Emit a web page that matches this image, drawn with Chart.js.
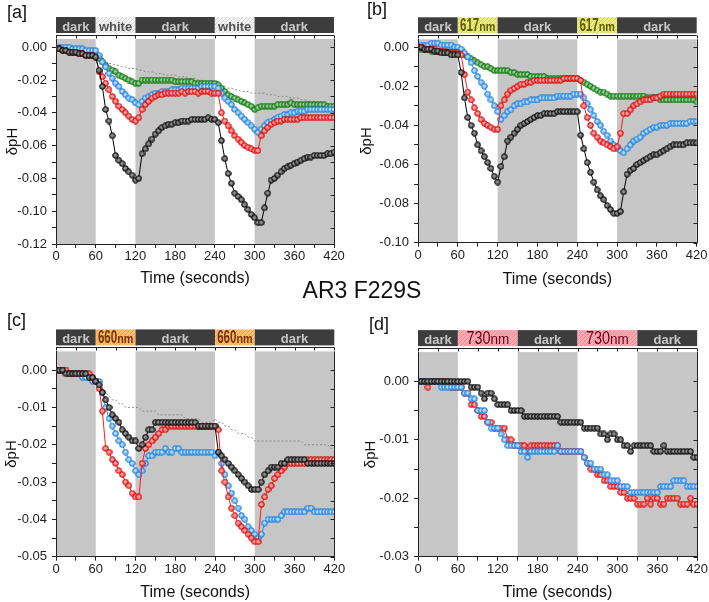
<!DOCTYPE html>
<html>
<head>
<meta charset="utf-8">
<script src="https://cdn.jsdelivr.net/npm/chart.js@4.4.0/dist/chart.umd.min.js"></script>
<style>
  body { margin: 0; background: #fff; width: 709px; height: 602px; position: relative; overflow: hidden;
         font-family: "Liberation Sans", Arial, sans-serif; color: #111; }
  canvas { position: absolute; }
  .tag { position: absolute; font-size: 18px; line-height: 18px; }
  #main { position: absolute; left: 362px; top: 279px; font-size: 23px; line-height: 23px;
          transform: translateX(-50%); white-space: nowrap; }
</style>
</head>
<body>
<canvas id="pa" width="354" height="300" style="left:0;top:0"></canvas>
<canvas id="pb" width="355" height="300" style="left:354px;top:0"></canvas>
<canvas id="pc" width="354" height="302" style="left:0;top:300px"></canvas>
<canvas id="pd" width="355" height="302" style="left:354px;top:300px"></canvas>
<div class="tag" style="left:7px;top:3px">[a]</div>
<div class="tag" style="left:367px;top:0px">[b]</div>
<div class="tag" style="left:7px;top:311px">[c]</div>
<div class="tag" style="left:369px;top:315px">[d]</div>
<div id="main">AR3 F229S</div>
<script>
// time axis (seconds)
var time = [0,5,10,15,20,25,30,35,40,45,50,55,60,65,70,75,80,85,90,95,100,105,110,115,
  120,125,130,135,140,145,150,155,160,165,170,175,180,185,190,195,200,205,210,215,220,225,230,235,
  240,245,250,255,260,265,270,275,280,285,290,295,300,305,310,315,320,325,330,335,340,345,350,355,
  360,365,370,375,380,385,390,395,400,405,410,415,420];

// light periods of each panel: [from, to, kind]
var periodsA = [[0,60,'dark'],[60,120,'white'],[120,240,'dark'],[240,300,'white'],[300,420,'dark']];
var periodsB = [[0,60,'dark'],[60,120,'617'],[120,240,'dark'],[240,300,'617'],[300,420,'dark']];
var periodsC = [[0,60,'dark'],[60,120,'660'],[120,240,'dark'],[240,300,'660'],[300,420,'dark']];
var periodsD = [[0,60,'dark'],[60,150,'730'],[150,240,'dark'],[240,330,'730'],[330,420,'dark']];

// panel [a] white light
var aBlack = [-0.001,-0.001,-0.002,-0.002,-0.003,-0.003,-0.003,-0.004,-0.004,-0.005,-0.005,-0.005,
  -0.006,-0.014,-0.024,-0.038,-0.045,-0.054,-0.066,-0.069,-0.071,-0.074,-0.076,-0.078,
  -0.081,-0.080,-0.065,-0.062,-0.059,-0.056,-0.053,-0.051,-0.049,-0.048,-0.047,-0.047,
  -0.046,-0.046,-0.045,-0.045,-0.045,-0.044,-0.044,-0.044,-0.044,-0.044,-0.043,-0.044,
  -0.044,-0.046,-0.057,-0.068,-0.077,-0.083,-0.089,-0.091,-0.093,-0.096,-0.099,-0.102,
  -0.104,-0.107,-0.107,-0.098,-0.089,-0.081,-0.080,-0.078,-0.076,-0.074,-0.073,-0.072,
  -0.071,-0.070,-0.069,-0.068,-0.067,-0.067,-0.066,-0.066,-0.066,-0.066,-0.065,-0.065,
  -0.064];
var aRed = [-0.001,-0.001,-0.002,-0.002,-0.003,-0.003,-0.003,-0.004,-0.004,-0.005,-0.005,-0.005,
  -0.006,-0.015,-0.018,-0.022,-0.026,-0.030,-0.033,-0.036,-0.038,-0.040,-0.042,-0.044,
  -0.045,-0.043,-0.038,-0.035,-0.033,-0.031,-0.030,-0.029,-0.029,-0.028,-0.028,-0.028,
  -0.028,-0.028,-0.027,-0.028,-0.027,-0.027,-0.027,-0.028,-0.027,-0.027,-0.027,-0.028,
  -0.028,-0.028,-0.040,-0.045,-0.048,-0.051,-0.054,-0.056,-0.058,-0.060,-0.061,-0.062,
  -0.063,-0.063,-0.054,-0.051,-0.049,-0.047,-0.046,-0.045,-0.045,-0.044,-0.044,-0.044,
  -0.044,-0.044,-0.043,-0.043,-0.043,-0.043,-0.043,-0.043,-0.043,-0.043,-0.043,-0.043,
  -0.043];
var aBlue = [0,0,0,0,0,-0.001,-0.001,-0.001,-0.001,-0.002,-0.002,-0.002,
  -0.002,-0.005,-0.009,-0.012,-0.016,-0.019,-0.022,-0.024,-0.027,-0.029,-0.031,-0.032,
  -0.034,-0.035,-0.033,-0.031,-0.030,-0.029,-0.028,-0.028,-0.027,-0.027,-0.027,-0.026,
  -0.026,-0.026,-0.025,-0.025,-0.025,-0.025,-0.025,-0.025,-0.024,-0.024,-0.024,-0.024,
  -0.024,-0.025,-0.028,-0.031,-0.033,-0.035,-0.038,-0.040,-0.042,-0.044,-0.046,-0.048,
  -0.050,-0.052,-0.050,-0.048,-0.046,-0.045,-0.044,-0.043,-0.042,-0.041,-0.041,-0.040,
  -0.040,-0.039,-0.039,-0.039,-0.038,-0.038,-0.038,-0.038,-0.038,-0.038,-0.038,-0.038,
  -0.038];
var aGreen = [-0.001,-0.001,-0.002,-0.002,-0.002,-0.003,-0.003,-0.003,-0.004,-0.004,-0.004,-0.005,
  -0.005,-0.007,-0.009,-0.011,-0.013,-0.014,-0.015,-0.017,-0.018,-0.019,-0.020,-0.021,
  -0.022,-0.022,-0.020,-0.020,-0.020,-0.020,-0.020,-0.020,-0.020,-0.020,-0.020,-0.020,
  -0.021,-0.021,-0.021,-0.021,-0.021,-0.021,-0.022,-0.022,-0.022,-0.022,-0.022,-0.022,
  -0.022,-0.023,-0.025,-0.027,-0.029,-0.030,-0.031,-0.032,-0.033,-0.034,-0.035,-0.036,
  -0.038,-0.037,-0.036,-0.036,-0.036,-0.036,-0.036,-0.035,-0.035,-0.035,-0.035,-0.034,
  -0.035,-0.035,-0.035,-0.035,-0.035,-0.035,-0.035,-0.035,-0.035,-0.035,-0.036,-0.036,
  -0.036];
var aControl = [null,null,null,null,null,null,null,null,null,null,null,null,
  -0.005,-0.007,-0.008,-0.009,-0.010,-0.010,-0.011,-0.011,-0.012,-0.012,-0.013,-0.013,
  -0.013,-0.014,-0.014,-0.015,-0.015,-0.015,-0.016,-0.016,-0.016,-0.017,-0.017,-0.017,
  -0.017,-0.018,-0.018,-0.018,-0.019,-0.019,-0.019,-0.020,-0.020,-0.021,-0.021,-0.022,
  -0.022,-0.023,-0.023,-0.024,-0.025,-0.025,-0.026,-0.026,-0.027,-0.027,-0.027,-0.028,
  -0.028,-0.028,-0.028,-0.028,-0.029,-0.029,-0.029,-0.030,-0.030,-0.030,-0.030,-0.031,
  -0.031,-0.031,-0.032,-0.032,-0.033,-0.033,-0.033,-0.034,-0.034,-0.034,-0.035,-0.035,
  -0.035];

// panel [b] 617 nm
var bBlack = [0,0,-0.001,-0.001,-0.001,-0.002,-0.002,-0.003,-0.003,-0.003,-0.004,-0.004,
  -0.004,-0.013,-0.026,-0.036,-0.040,-0.044,-0.050,-0.053,-0.056,-0.059,-0.062,-0.066,
  -0.069,-0.061,-0.056,-0.048,-0.046,-0.044,-0.042,-0.040,-0.039,-0.038,-0.037,-0.036,
  -0.035,-0.035,-0.034,-0.034,-0.034,-0.034,-0.033,-0.033,-0.033,-0.033,-0.033,-0.033,
  -0.033,-0.045,-0.052,-0.059,-0.064,-0.069,-0.073,-0.076,-0.078,-0.081,-0.083,-0.085,
  -0.085,-0.084,-0.074,-0.065,-0.063,-0.062,-0.060,-0.059,-0.058,-0.057,-0.056,-0.055,
  -0.055,-0.054,-0.053,-0.052,-0.051,-0.050,-0.050,-0.050,-0.050,-0.049,-0.049,-0.049,
  -0.049];
var bRed = [0,0,-0.001,-0.001,-0.001,-0.001,-0.002,-0.002,-0.002,-0.003,-0.003,-0.003,
  -0.003,-0.004,-0.014,-0.023,-0.027,-0.031,-0.034,-0.037,-0.039,-0.040,-0.041,-0.042,
  -0.042,-0.030,-0.027,-0.024,-0.022,-0.021,-0.020,-0.019,-0.019,-0.018,-0.018,-0.017,
  -0.017,-0.017,-0.017,-0.017,-0.017,-0.017,-0.017,-0.017,-0.016,-0.016,-0.016,-0.016,
  -0.016,-0.017,-0.030,-0.036,-0.040,-0.044,-0.046,-0.048,-0.049,-0.050,-0.051,-0.052,
  -0.051,-0.044,-0.034,-0.034,-0.032,-0.030,-0.029,-0.028,-0.027,-0.027,-0.027,-0.026,
  -0.026,-0.025,-0.024,-0.024,-0.024,-0.024,-0.024,-0.024,-0.024,-0.024,-0.024,-0.024,
  -0.024];
var bBlue = [0,0.001,0.001,0.001,0.002,0.002,0.002,0.001,0.001,0.001,0.001,0,
  0,-0.001,-0.003,-0.005,-0.008,-0.012,-0.015,-0.018,-0.020,-0.024,-0.027,-0.030,
  -0.033,-0.037,-0.035,-0.033,-0.032,-0.030,-0.029,-0.029,-0.028,-0.028,-0.027,-0.027,
  -0.027,-0.026,-0.026,-0.026,-0.026,-0.026,-0.025,-0.025,-0.025,-0.025,-0.025,-0.024,
  -0.024,-0.024,-0.026,-0.029,-0.032,-0.035,-0.038,-0.040,-0.043,-0.045,-0.048,-0.050,
  -0.052,-0.053,-0.054,-0.052,-0.050,-0.048,-0.047,-0.046,-0.044,-0.043,-0.042,-0.041,
  -0.041,-0.040,-0.040,-0.040,-0.039,-0.039,-0.039,-0.039,-0.039,-0.039,-0.038,-0.038,
  -0.038];
var bGreen = [-0.001,-0.001,-0.001,-0.001,-0.002,-0.002,-0.002,-0.002,-0.003,-0.003,-0.003,-0.003,
  -0.003,-0.003,-0.004,-0.005,-0.006,-0.007,-0.008,-0.009,-0.010,-0.010,-0.011,-0.012,
  -0.012,-0.012,-0.012,-0.012,-0.013,-0.013,-0.014,-0.014,-0.014,-0.014,-0.015,-0.015,
  -0.015,-0.015,-0.015,-0.016,-0.016,-0.016,-0.016,-0.016,-0.016,-0.016,-0.016,-0.016,
  -0.016,-0.017,-0.018,-0.019,-0.020,-0.021,-0.022,-0.023,-0.023,-0.024,-0.025,-0.025,
  -0.025,-0.025,-0.025,-0.025,-0.025,-0.025,-0.025,-0.025,-0.025,-0.026,-0.026,-0.026,
  -0.026,-0.027,-0.027,-0.027,-0.027,-0.027,-0.027,-0.027,-0.027,-0.027,-0.027,-0.027,
  -0.028];

// panel [c] 660 nm
var cBlack = [0,0,0,-0.001,-0.001,-0.001,-0.001,-0.001,-0.001,-0.001,-0.002,-0.002,
  -0.003,-0.004,-0.006,-0.008,-0.010,-0.012,-0.013,-0.014,-0.016,-0.017,-0.018,-0.019,
  -0.019,-0.021,-0.020,-0.018,-0.016,-0.016,-0.014,-0.014,-0.014,-0.014,-0.014,-0.014,
  -0.014,-0.014,-0.014,-0.014,-0.014,-0.014,-0.014,-0.015,-0.015,-0.015,-0.015,-0.015,
  -0.015,-0.022,-0.023,-0.024,-0.025,-0.026,-0.027,-0.028,-0.029,-0.030,-0.031,-0.032,
  -0.032,-0.032,-0.030,-0.028,-0.027,-0.026,-0.026,-0.026,-0.025,-0.025,-0.024,-0.024,
  -0.024,-0.024,-0.024,-0.024,-0.025,-0.025,-0.025,-0.025,-0.025,-0.025,-0.025,-0.025,
  -0.025];
var cRed = [0,0,0,0,-0.001,-0.001,-0.001,-0.001,-0.001,-0.001,-0.001,-0.002,
  -0.003,-0.005,-0.011,-0.021,-0.022,-0.024,-0.025,-0.027,-0.028,-0.030,-0.031,-0.033,
  -0.034,-0.034,-0.025,-0.021,-0.020,-0.019,-0.018,-0.017,-0.016,-0.016,-0.015,-0.015,
  -0.015,-0.015,-0.015,-0.015,-0.015,-0.015,-0.015,-0.015,-0.015,-0.015,-0.015,-0.015,
  -0.015,-0.016,-0.027,-0.030,-0.034,-0.037,-0.039,-0.041,-0.042,-0.043,-0.044,-0.045,
  -0.046,-0.046,-0.036,-0.034,-0.032,-0.031,-0.029,-0.028,-0.027,-0.026,-0.025,-0.025,
  -0.025,-0.025,-0.025,-0.025,-0.024,-0.024,-0.024,-0.024,-0.024,-0.024,-0.024,-0.024,
  -0.024];
var cBlue = [0,0,0,0,-0.001,-0.001,-0.001,-0.001,-0.002,-0.002,-0.002,-0.003,
  -0.003,-0.003,-0.006,-0.010,-0.013,-0.015,-0.017,-0.019,-0.020,-0.022,-0.024,-0.025,
  -0.027,-0.028,-0.027,-0.025,-0.023,-0.023,-0.022,-0.022,-0.022,-0.021,-0.022,-0.022,
  -0.021,-0.021,-0.022,-0.022,-0.022,-0.022,-0.022,-0.022,-0.022,-0.022,-0.022,-0.022,
  -0.023,-0.022,-0.025,-0.028,-0.031,-0.033,-0.035,-0.037,-0.039,-0.040,-0.042,-0.043,
  -0.044,-0.045,-0.044,-0.041,-0.040,-0.040,-0.040,-0.040,-0.039,-0.038,-0.038,-0.038,
  -0.038,-0.038,-0.038,-0.038,-0.037,-0.037,-0.038,-0.038,-0.038,-0.038,-0.038,-0.038,
  -0.038];
var cControl = [null,null,null,null,null,null,null,null,null,null,null,null,
  -0.003,-0.004,-0.005,-0.006,-0.007,-0.008,-0.008,-0.009,-0.009,-0.010,-0.010,-0.010,
  -0.010,-0.010,-0.011,-0.011,-0.011,-0.011,-0.011,-0.012,-0.012,-0.012,-0.012,-0.012,
  -0.012,-0.012,-0.012,-0.013,-0.013,-0.013,-0.013,-0.013,-0.014,-0.014,-0.014,-0.014,
  -0.013,-0.014,-0.014,-0.015,-0.015,-0.016,-0.016,-0.017,-0.017,-0.017,-0.018,-0.018,
  -0.019,-0.019,-0.019,-0.019,-0.019,-0.019,-0.019,-0.019,-0.019,-0.019,-0.019,-0.019,
  -0.019,-0.019,-0.019,-0.020,-0.020,-0.020,-0.020,-0.020,-0.020,-0.020,-0.020,-0.021,
  -0.021];

// panel [d] 730 nm
var dBlack = [0,0,0,0,0,0,0,0,0,0,0,0,
  0,0,0,0,-0.001,-0.001,-0.001,-0.002,-0.003,-0.002,-0.002,-0.003,
  -0.004,-0.004,-0.004,-0.004,-0.005,-0.005,-0.005,-0.005,-0.006,-0.006,-0.006,-0.006,
  -0.006,-0.006,-0.006,-0.006,-0.006,-0.006,-0.006,-0.007,-0.007,-0.007,-0.007,-0.007,
  -0.007,-0.007,-0.008,-0.008,-0.008,-0.008,-0.008,-0.009,-0.009,-0.010,-0.009,-0.009,
  -0.010,-0.010,-0.011,-0.011,-0.012,-0.011,-0.011,-0.011,-0.011,-0.011,-0.011,-0.012,
  -0.012,-0.012,-0.011,-0.012,-0.012,-0.012,-0.012,-0.012,-0.012,-0.012,-0.012,-0.013,
  -0.013];
var dRed = [0,0,0,-0.001,0,0,0,0,0,0,-0.001,-0.001,
  -0.001,-0.001,-0.002,-0.002,-0.004,-0.004,-0.005,-0.006,-0.006,-0.007,-0.007,-0.008,
  -0.008,-0.008,-0.008,-0.010,-0.010,-0.011,-0.011,-0.011,-0.011,-0.012,-0.011,-0.011,
  -0.011,-0.011,-0.011,-0.011,-0.011,-0.011,-0.011,-0.012,-0.012,-0.012,-0.012,-0.012,
  -0.012,-0.012,-0.013,-0.014,-0.015,-0.015,-0.016,-0.016,-0.017,-0.017,-0.018,-0.018,
  -0.018,-0.019,-0.019,-0.020,-0.020,-0.020,-0.021,-0.021,-0.021,-0.020,-0.021,-0.020,
  -0.020,-0.021,-0.021,-0.020,-0.020,-0.020,-0.020,-0.021,-0.021,-0.021,-0.020,-0.021,
  -0.021];
var dBlue = [0,0,0,0,0,0,0,-0.001,-0.001,-0.001,-0.001,-0.001,
  -0.001,-0.001,-0.002,-0.002,-0.003,-0.003,-0.005,-0.005,-0.005,-0.007,-0.008,-0.008,
  -0.008,-0.009,-0.010,-0.011,-0.011,-0.011,-0.011,-0.012,-0.012,-0.013,-0.012,-0.012,
  -0.012,-0.012,-0.012,-0.012,-0.012,-0.012,-0.011,-0.012,-0.012,-0.012,-0.012,-0.012,
  -0.012,-0.012,-0.013,-0.014,-0.014,-0.015,-0.015,-0.015,-0.016,-0.016,-0.017,-0.017,
  -0.017,-0.018,-0.018,-0.018,-0.019,-0.019,-0.019,-0.019,-0.019,-0.019,-0.019,-0.019,
  -0.019,-0.018,-0.018,-0.018,-0.018,-0.017,-0.017,-0.017,-0.017,-0.018,-0.018,-0.018,
  -0.018];

// tick values
var xTicks = [0,30,60,90,120,150,180,210,240,270,300,330,360,390,420];
var xLabels = [0,60,120,180,240,300,360,420];
var yTicksA = [0,-0.01,-0.02,-0.03,-0.04,-0.05,-0.06,-0.07,-0.08,-0.09,-0.10,-0.11,-0.12];
var yLabelsA = [0,-0.02,-0.04,-0.06,-0.08,-0.10,-0.12];
var yTicksB = [0,-0.01,-0.02,-0.03,-0.04,-0.05,-0.06,-0.07,-0.08,-0.09,-0.10];
var yLabelsB = [0,-0.02,-0.04,-0.06,-0.08,-0.10];
var yTicksC = [0,-0.005,-0.01,-0.015,-0.02,-0.025,-0.03,-0.035,-0.04,-0.045,-0.05];
var yLabelsC = [0,-0.01,-0.02,-0.03,-0.04,-0.05];
var yTicksD = [0,-0.005,-0.01,-0.015,-0.02,-0.025,-0.03];
var yLabelsD = [0,-0.01,-0.02,-0.03];

var FONT = '"Liberation Sans", Arial, sans-serif';
Chart.defaults.font.family = FONT;

function dot(edge, fill, hi) {
  var c = document.createElement('canvas');
  c.width = 7; c.height = 7;
  var g = c.getContext('2d');
  var grd = g.createRadialGradient(3, 3, 0.2, 3.5, 3.5, 3.2);
  grd.addColorStop(0, hi);
  grd.addColorStop(1, fill);
  g.fillStyle = grd;
  g.beginPath(); g.arc(3.5, 3.5, 2.8, 0, Math.PI * 2); g.fill();
  g.lineWidth = 1; g.strokeStyle = edge; g.stroke();
  return c;
}

var STY = {
  black: { line: '#000', dot: dot('#000', '#333333', '#a8a8a8') },
  red:   { line: '#ff1a1a', dot: dot('#d00000', '#ff3030', '#ffc4c4') },
  blue:  { line: '#2a90f0', dot: dot('#1a7ad6', '#3d9cf2', '#d6ecff') },
  green: { line: '#1a8c1a', dot: dot('#0f6a0f', '#2a9a2a', '#aee0ae') }
};

function series(vals, key) {
  return {
    data: time.map(function (t, i) { return { x: t, y: vals[i] }; }),
    borderColor: STY[key].line, borderWidth: 1,
    pointStyle: STY[key].dot, pointRadius: 3, pointHoverRadius: 3, tension: 0
  };
}
function control(vals) {
  return {
    data: time.map(function (t, i) { return { x: t, y: vals[i] }; }),
    borderColor: '#8a8a8a', borderWidth: 1, borderDash: [2, 2], pointRadius: 0, spanGaps: false
  };
}

function hatch(bg, ln) {
  var c = document.createElement('canvas');
  c.width = 4; c.height = 4;
  var g = c.getContext('2d');
  g.fillStyle = bg; g.fillRect(0, 0, 4, 4);
  g.strokeStyle = ln; g.lineWidth = 1;
  g.beginPath(); g.moveTo(-1, 5); g.lineTo(5, -1); g.stroke();
  return c;
}

var SEG = {
  dark:  { bg: '#3d3d3d', color: '#c8c8c8', parts: [['dark', 'bold 13px', 1]] },
  white: { bg: hatch('#f1f1f1', '#d8d8d8'), color: '#505050', parts: [['white', 'bold 13px', 1]] },
  '617': { bg: hatch('#e9e985', '#d4d45c'), color: '#5e5e00', parts: [['617', 'bold 18px', 0.64], ['nm', 'bold 12px', 0.9]] },
  '660': { bg: hatch('#f9bd74', '#efa352'), color: '#7a3300', parts: [['660', 'bold 18px', 0.64], ['nm', 'bold 12px', 0.9]] },
  '730': { bg: hatch('#f9a9b1', '#f28c98'), color: '#6b0014', parts: [['730', '18px', 0.8], ['nm', '15px', 0.9]] }
};

var bandPlugin = {
  id: 'bands',
  beforeDraw: function (chart, args, o) {
    var ctx = chart.ctx, a = chart.chartArea, x = chart.scales.x;
    ctx.save();
    // shaded dark periods
    ctx.fillStyle = '#c6c6c6';
    o.periods.forEach(function (p) {
      if (p[2] !== 'dark') return;
      var x0 = x.getPixelForValue(p[0]), x1 = x.getPixelForValue(p[1]);
      ctx.fillRect(x0, a.top, x1 - x0, a.bottom - a.top);
    });
    // header bar
    var hTop = a.top - 22, hH = 16;
    o.periods.forEach(function (p) {
      var x0 = x.getPixelForValue(p[0]), x1 = x.getPixelForValue(p[1]);
      var s = SEG[p[2]];
      ctx.fillStyle = typeof s.bg === 'string' ? s.bg : ctx.createPattern(s.bg, 'repeat');
      ctx.fillRect(x0, hTop, x1 - x0, hH);
      var total = 0;
      s.parts.forEach(function (q) {
        ctx.font = q[1] + ' ' + FONT;
        total += ctx.measureText(q[0]).width * q[2];
      });
      var cx = (x0 + x1) / 2 - total / 2;
      ctx.fillStyle = s.color;
      ctx.textBaseline = 'alphabetic';
      ctx.textAlign = 'left';
      s.parts.forEach(function (q) {
        ctx.font = q[1] + ' ' + FONT;
        var w = ctx.measureText(q[0]).width;
        ctx.save();
        ctx.translate(cx, hTop + 13.5);
        ctx.scale(q[2], 1);
        ctx.fillText(q[0], 0, 0);
        ctx.restore();
        cx += w * q[2];
      });
    });
    ctx.restore();
  },
  afterDraw: function (chart) {
    var ctx = chart.ctx, a = chart.chartArea, x = chart.scales.x, y = chart.scales.y;
    ctx.save();
    ctx.strokeStyle = '#222'; ctx.lineWidth = 1;
    ctx.beginPath();
    var R = Math.round(a.right) + 0.5;
    ctx.moveTo(R, a.top); ctx.lineTo(R, a.bottom);
    y.ticks.forEach(function (t) {
      var py = Math.round(y.getPixelForValue(t.value)) + 0.5;
      ctx.moveTo(R, py); ctx.lineTo(R - 4, py);
    });
    var hy = Math.round(a.top - 4) + 0.5;
    ctx.moveTo(a.left, hy); ctx.lineTo(a.right, hy);
    x.ticks.forEach(function (t) {
      var px = Math.round(x.getPixelForValue(t.value)) + 0.5;
      ctx.moveTo(px, hy); ctx.lineTo(px, hy + 3);
    });
    ctx.stroke();
    ctx.restore();
  }
};

function isIn(list, v) {
  return list.some(function (m) { return Math.abs(m - v) < 1e-9; });
}

function panel(id, cfg) {
  return new Chart(document.getElementById(id), {
    type: 'line',
    data: { datasets: cfg.datasets },
    options: {
      responsive: false, animation: false, devicePixelRatio: 1,
      layout: { padding: cfg.pad },
      plugins: { legend: { display: false }, tooltip: { enabled: false }, bands: { periods: cfg.periods } },
      scales: {
        x: {
          type: 'linear', min: 0, max: 420,
          afterFit: function (s) { s.height = cfg.xh; },
          afterBuildTicks: function (s) { s.ticks = xTicks.map(function (v) { return { value: v }; }); },
          ticks: {
            autoSkip: false, maxRotation: 0, padding: 1, color: '#222', font: { size: 13 },
            callback: function (v) { return isIn(xLabels, v) ? String(v) : ''; }
          },
          grid: { drawOnChartArea: false, tickLength: 4, color: '#222' },
          border: { color: '#222' },
          title: { display: true, text: 'Time (seconds)', color: '#111', font: { size: 16 },
                   padding: { top: 0, bottom: cfg.xtb } }
        },
        y: {
          min: cfg.ymin, max: cfg.ymax,
          afterFit: function (s) { s.width = cfg.yw; },
          afterBuildTicks: function (s) { s.ticks = cfg.yTicks.map(function (v) { return { value: v }; }); },
          ticks: {
            autoSkip: false, padding: 5, color: '#222', font: { size: 13 },
            callback: function (v) { return isIn(cfg.yLabels, v) ? Number(v).toFixed(2) : ''; }
          },
          grid: { drawOnChartArea: false, tickLength: 4, color: '#222' },
          border: { color: '#222' },
          title: { display: true, text: 'δpH', color: '#111', font: { size: 15 },
                   padding: { top: cfg.ytt, bottom: 0 } }
        }
      }
    },
    plugins: [bandPlugin]
  });
}

panel('pa', {
  datasets: [series(aBlack, 'black'), series(aRed, 'red'), series(aBlue, 'blue'), series(aGreen, 'green'), control(aControl)],
  periods: periodsA, ymin: -0.12, ymax: 0.005, yTicks: yTicksA, yLabels: yLabelsA,
  pad: { top: 39, right: 20, bottom: 0, left: 0 }, yw: 56, xh: 56, xtb: 11.4, ytt: 3.5
});
panel('pb', {
  datasets: [series(bBlack, 'black'), series(bRed, 'red'), series(bBlue, 'blue'), series(bGreen, 'green')],
  periods: periodsB, ymin: -0.10, ymax: 0.004, yTicks: yTicksB, yLabels: yLabelsB,
  pad: { top: 39.3, right: 12.3, bottom: 0, left: 0 }, yw: 64, xh: 57.3, xtb: 11.1, ytt: 4.3
});
panel('pc', {
  datasets: [series(cBlack, 'black'), series(cRed, 'red'), series(cBlue, 'blue'), control(cControl)],
  periods: periodsC, ymin: -0.05, ymax: 0.005, yTicks: yTicksC, yLabels: yLabelsC,
  pad: { top: 51.4, right: 19.7, bottom: 0, left: 0 }, yw: 56, xh: 45.3, xtb: 0, ytt: 3.2
});
panel('pd', {
  datasets: [series(dBlack, 'black'), series(dBlue, 'blue'), series(dRed, 'red')],
  periods: periodsD, ymin: -0.03, ymax: 0.005, yTicks: yTicksD, yLabels: yLabelsD,
  pad: { top: 52.1, right: 11.7, bottom: 0, left: 0 }, yw: 64, xh: 45.3, xtb: 0, ytt: 8
});
</script>
</body>
</html>
